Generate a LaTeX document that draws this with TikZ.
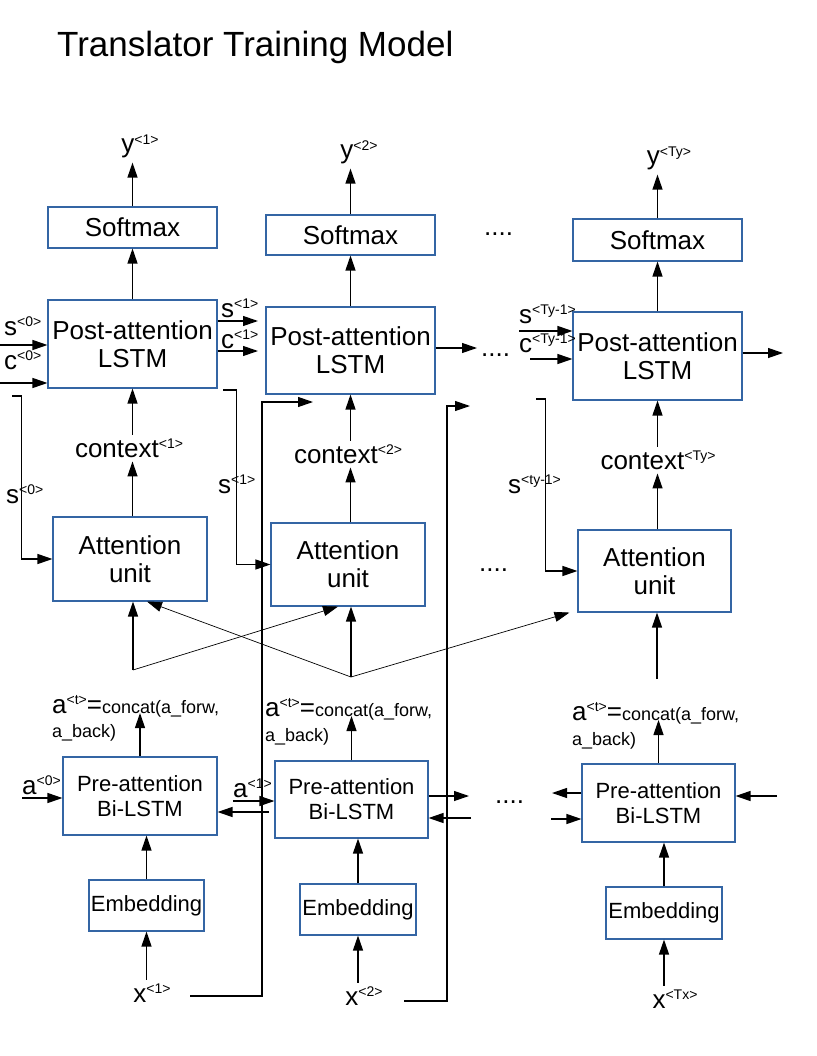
\documentclass[tikz,border=0pt]{standalone}
\usepackage{fontspec}
\setmainfont{Liberation Sans}
\usetikzlibrary{positioning,arrows.meta}
\definecolor{boxblue}{RGB}{52,101,164}
\newcommand{\tg}[1]{\raisebox{0.62ex}{\fontsize{14}{14}\selectfont<#1>}}
\newcommand{\boxfont}{\fontsize{26}{28}\selectfont}
\newcommand{\prefont}{\fontsize{22}{25}\selectfont}
\newcommand{\catfont}{\fontsize{18}{23}\selectfont}
\tikzset{
  blk/.style={draw=boxblue, line width=1.1pt, align=center, inner sep=0pt, font=\boxfont},
  lbl/.style={inner sep=4pt, font=\boxfont},
  tag/.style={inner sep=0pt, font=\boxfont},
  arr/.style={-{Triangle[length=15pt,width=10pt]}, line width=1.2pt},
  thinarr/.style={-{Triangle[length=15pt,width=10pt]}, line width=0.7pt},
}
\begin{document}
\begin{tikzpicture}[x=1pt,y=-1pt]
    \useasboundingbox (0,0) rectangle (816,1056);
    \node[tag,anchor=base west,font=\fontsize{35}{40}\selectfont] (title) at (57,57) {Translator Training Model};

    % output layer
    \node[blk,minimum width=169pt,minimum height=41pt] (sm1) at (132.5,227.5) {Softmax};
    \node[blk,minimum width=169pt,minimum height=40pt] (sm2) at (350.5,235) {Softmax};
    \node[blk,minimum width=169pt,minimum height=42pt] (sm3) at (657.5,240) {Softmax};
    \node[lbl,anchor=base] (y1) at (140,153) {y\tg{1}};
    \node[lbl,anchor=base] (y2) at (359,159) {y\tg{2}};
    \node[lbl,anchor=base] (y3) at (669,165) {y\tg{Ty}};
    \node[tag,anchor=base west] (d1) at (484,236) {....};
    \draw[arr] (sm1.north) -- (sm1.north |- y1.south);
    \draw[arr] (sm2.north) -- (sm2.north |- y2.south);
    \draw[arr] (sm3.north) -- (sm3.north |- y3.south);

    % post-attention LSTM
    \node[blk,minimum width=169pt,minimum height=88pt] (post1) at (132.5,344) {Post-attention\\LSTM};
    \node[blk,minimum width=169pt,minimum height=87pt] (post2) at (350.5,350.5) {Post-attention\\LSTM};
    \node[blk,minimum width=169pt,minimum height=88pt] (post3) at (657.5,356) {Post-attention\\LSTM};
    \draw[arr] (post1.north) -- (sm1.south);
    \draw[arr] (post2.north) -- (sm2.south);
    \draw[arr] (post3.north) -- (sm3.south);

    \coordinate (s0i) at (0,345);
    \coordinate (c0i) at (0,383);
    \draw[arr] (s0i) -- (s0i -| post1.west);
    \draw[arr] (c0i) -- (c0i -| post1.west);
    \node[tag,anchor=base west] (s0) at (4,335) {s\tg{0}};
    \node[tag,anchor=base west] (c0) at (4,369) {c\tg{0}};
    \coordinate (s1o) at (258,321);
    \coordinate (c1o) at (258,351);
    \draw[arr] (s1o -| post1.east) -- (s1o);
    \draw[arr] (c1o -| post1.east) -- (c1o);
    \node[tag,anchor=base west] (s1) at (221,317) {s\tg{1}};
    \node[tag,anchor=base west] (c1) at (221,348) {c\tg{1}};
    \coordinate (p2o) at (477,348);
    \draw[arr] (p2o -| post2.east) -- (p2o);
    \node[tag,anchor=base west] (d2) at (481,356) {....};
    \coordinate (sTi) at (519,331);
    \coordinate (cTi) at (530,359);
    \draw[arr] (sTi) -- (sTi -| post3.west);
    \draw[arr] (cTi) -- (cTi -| post3.west);
    \node[tag,anchor=base west] (sT) at (519,323) {s\tg{Ty-1}};
    \node[tag,anchor=base west] (cT) at (519,352) {c\tg{Ty-1}};
    \coordinate (p3o) at (783,353);
    \draw[arr] (p3o -| post3.east) -- (p3o);

    % context
    \node[lbl,anchor=base] (ctx1) at (129,457) {context\tg{1}};
    \node[lbl,anchor=base] (ctx2) at (348,463) {context\tg{2}};
    \node[lbl,anchor=base] (ctx3) at (658,469) {context\tg{Ty}};
    \draw[arr] (post1.south |- ctx1.north) -- (post1.south);
    \draw[arr] (post2.south |- ctx2.north) -- (post2.south);
    \draw[arr] (post3.south |- ctx3.north) -- (post3.south);

    % attention
    \node[blk,minimum width=154pt,minimum height=84pt] (att1) at (130,559) {Attention\\unit};
    \node[blk,minimum width=154pt,minimum height=83pt] (att2) at (348,564.5) {Attention\\unit};
    \node[blk,minimum width=153pt,minimum height=82pt] (att3) at (654.5,571) {Attention\\unit};
    \node[tag,anchor=base west] (d3) at (479,571) {....};
    \draw[arr] (att1.north -| post1.south) -- (post1.south |- ctx1.south);
    \draw[arr] (att2.north -| post2.south) -- (post2.south |- ctx2.south);
    \draw[arr] (att3.north -| post3.south) -- (post3.south |- ctx3.south);

    % s feedback
    \coordinate (s0fb) at (12,396);
    \coordinate (s1fb) at (223,390);
    \coordinate (sTfb) at (536,399);
    \draw[arr] (s0fb) -| ([xshift=-31pt]att1.west) -- (att1.west);
    \draw[arr] (s1fb) -| ([xshift=-34pt]att2.west) -- (att2.west);
    \draw[arr] (sTfb) -| ([xshift=-32pt]att3.west) -- (att3.west);
    \node[tag,anchor=base west] (s0f) at (6,503) {s\tg{0}};
    \node[tag,anchor=base west] (s1f) at (218,493) {s\tg{1}};
    \node[tag,anchor=base west] (sTf) at (508,493) {s\tg{ty-1}};

    % encoder states into attention
    \coordinate (v1) at (133,670);
    \coordinate (v2) at (351,677);
    \coordinate (v3) at (657,679);
    \draw[arr] (v1) -- (v1 |- att1.south);
    \draw[arr] (v2) -- (v2 |- att2.south);
    \draw[arr] (v3) -- (v3 |- att3.south);
    \draw[thinarr] (v1) -- ([xshift=-10pt]att2.south);
    \draw[thinarr] (v2) -- ([xshift=17pt]att1.south);
    \draw[thinarr] (v2) -- ([xshift=-8pt]att3.south west);

    % pre-attention Bi-LSTM
    \node[blk,font=\prefont,minimum width=154pt,minimum height=78pt] (pre1) at (140,796) {Pre-attention\\Bi-LSTM};
    \node[blk,font=\prefont,minimum width=153pt,minimum height=77pt] (pre2) at (351.5,799.5) {Pre-attention\\Bi-LSTM};
    \node[blk,font=\prefont,minimum width=153pt,minimum height=78pt] (pre3) at (658.5,803) {Pre-attention\\Bi-LSTM};
    \node[tag,anchor=base west,font=\catfont] (cat1) at (52,713) {{\boxfont a\tg{t}=}concat(a\_forw,};
    \node[tag,anchor=base west,font=\catfont] (bk1) at (52,737) {a\_back)};
    \node[tag,anchor=base west,font=\catfont] (cat2) at (265,716) {{\boxfont a\tg{t}=}concat(a\_forw,};
    \node[tag,anchor=base west,font=\catfont] (bk2) at (265,741) {a\_back)};
    \node[tag,anchor=base west,font=\catfont] (cat3) at (572,720) {{\boxfont a\tg{t}=}concat(a\_forw,};
    \node[tag,anchor=base west,font=\catfont] (bk3) at (572,745) {a\_back)};
    \draw[arr] (pre1.north) -- (pre1.north |- cat1.base);
    \draw[arr] (pre2.north) -- (pre2.north |- cat2.base);
    \draw[arr] (pre3.north) -- (pre3.north |- cat3.base);

    \coordinate (a0i) at (22,798);
    \draw[arr] (a0i) -- (a0i -| pre1.west);
    \node[tag,anchor=base west] (a0) at (22,794) {a\tg{0}};
    \coordinate (a1i) at (233,801);
    \coordinate (a1b) at (269,812);
    \draw[arr] (a1i) -- (a1i -| pre2.west);
    \draw[arr] (a1b) -- (a1b -| pre1.east);
    \node[tag,anchor=base west] (a1) at (233,797) {a\tg{1}};
    \coordinate (p2f) at (469,796);
    \coordinate (p2b) at (471,818);
    \draw[arr] (p2f -| pre2.east) -- (p2f);
    \draw[arr] (p2b) -- (p2b -| pre2.east);
    \node[tag,anchor=base west] (d4) at (495,803) {....};
    \coordinate (p3b) at (552,793);
    \coordinate (p3f) at (551,819);
    \coordinate (p3r) at (777,796);
    \draw[arr] (p3b -| pre3.west) -- (p3b);
    \draw[arr] (p3f) -- (p3f -| pre3.west);
    \draw[arr] (p3r) -- (p3r -| pre3.east);

    % embedding and inputs
    \node[blk,font=\prefont,minimum width=115pt,minimum height=51pt] (emb1) at (146.5,905.5) {Embedding};
    \node[blk,font=\prefont,minimum width=116pt,minimum height=51pt] (emb2) at (358,909.5) {Embedding};
    \node[blk,font=\prefont,minimum width=116pt,minimum height=52pt] (emb3) at (664,913) {Embedding};
    \draw[arr] (emb1.north) -- (emb1.north |- pre1.south);
    \draw[arr] (emb2.north) -- (emb2.north |- pre2.south);
    \draw[arr] (emb3.north) -- (emb3.north |- pre3.south);
    \node[lbl,anchor=base] (x1) at (152,1002) {x\tg{1}};
    \node[lbl,anchor=base] (x2) at (364,1005) {x\tg{2}};
    \node[lbl,anchor=base] (x3) at (675,1008) {x\tg{Tx}};
    \draw[arr] (emb1.south |- x1.north) -- (emb1.south);
    \draw[arr] (emb2.south |- x2.north) -- (emb2.south);
    \draw[arr] (emb3.south |- x3.north) -- (emb3.south);

    % inputs fed forward to the decoder
    \coordinate (x1r) at (190,996);
    \coordinate (x1t) at (313,402);
    \coordinate (x2r) at (404,1001);
    \coordinate (x2t) at (470,406);
    \draw[arr] (x1r) -| ([xshift=-51pt]x1t) -- (x1t);
    \draw[arr] (x2r) -| ([xshift=-23pt]x2t) -- (x2t);
\end{tikzpicture}
\end{document}
